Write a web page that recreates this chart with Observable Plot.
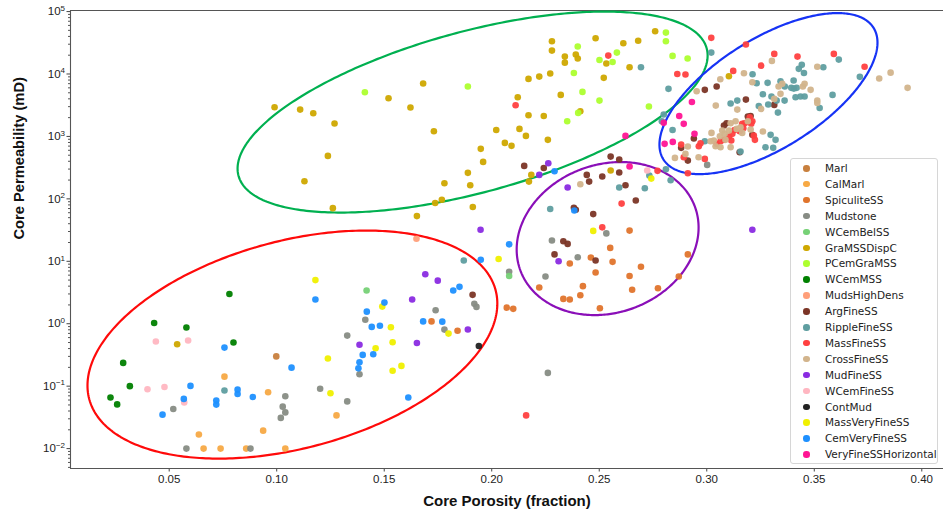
<!DOCTYPE html>
<html><head><meta charset="utf-8">
<script src="https://cdn.jsdelivr.net/npm/d3@7"></script>
<script src="https://cdn.jsdelivr.net/npm/@observablehq/plot@0.6"></script>
<style>
body{margin:0;background:#fff;}
#wrap{position:relative;width:943px;height:517px;overflow:hidden;}
#legend{position:absolute;left:790px;top:158px;width:148px;height:306px;border:1px solid #d6d6d6;border-radius:3px;background:rgba(255,255,255,0.85);font-family:"DejaVu Sans",sans-serif;font-size:10.5px;color:#222;box-sizing:border-box;}
.row{position:absolute;left:0;height:16px;line-height:16px;white-space:nowrap;}
.mk{position:absolute;left:12px;top:5px;width:6.5px;height:6.5px;border-radius:50%;}
.lb{position:absolute;left:34px;top:0;}
</style></head>
<body><div id="wrap"><div id="legend"></div></div>
<script>
// ---- data ----
const categories = ["Marl","CalMarl","SpiculiteSS","Mudstone","WCemBelSS","GraMSSDispC","PCemGraMSS","WCemMSS","MudsHighDens","ArgFineSS","RippleFineSS","MassFineSS","CrossFineSS","MudFineSS","WCemFineSS","ContMud","MassVeryFineSS","CemVeryFineSS","VeryFineSSHorizontal"];
const colors = ["#c8803e","#f7a944","#e0742c","#878c84","#76d176","#cfa800","#adff2f","#008000","#ff9f7a","#7b3526","#5f9ea0","#ff4040","#d2b48c","#8a2be2","#ffb6c1","#222222","#f0f000","#1e90ff","#ff1493"];

// [porosity (fraction), permeability (mD)]
const marl = [[0.0998,0.30]];
const calMarl = [[0.0757,0.142],[0.0960,0.080],[0.1278,0.034],[0.0638,0.0168],[0.0937,0.0194],[0.0660,0.01],[0.0739,0.01],[0.0858,0.01],[0.1040,0.01]];
const spiculiteSS = [[0.1720,1.09],[0.1841,0.77],[0.2641,31],[0.2363,9.2],[0.2461,11.5],[0.2551,16.4],[0.2562,9.8],[0.2483,6.6],[0.2694,8.2],[0.2641,5.8],[0.2912,12.9],[0.2870,5.7],[0.2653,3.5],[0.2773,3.7],[0.2221,3.8],[0.2424,4.0],[0.2412,2.86],[0.2333,2.5],[0.2363,2.44],[0.2503,1.77],[0.2070,1.81],[0.2100,1.73]];
const mudstone = [[0.1328,0.645],[0.1202,0.091],[0.1040,0.069],[0.0519,0.043],[0.1028,0.047],[0.1040,0.038],[0.1019,0.031],[0.1328,0.057],[0.0580,0.01],[0.0878,0.01],[0.1385,0.155],[0.1919,2.08],[0.1929,1.86],[0.1412,1.16],[0.1739,1.64],[0.1780,0.805],[0.2533,28],[0.2280,21.5],[0.2400,11.6],[0.2250,5.7],[0.2081,6.8],[0.2261,0.163],[0.3002,350]];
const wCemBelSS = [[0.1418,3.4],[0.2081,5.8]];
const graMSSDispC = [[0.0537,0.47],[0.0990,2930],[0.1109,2690],[0.1170,2350],[0.1269,1610],[0.1520,4080],[0.1622,2900],[0.1681,7030],[0.1731,1210],[0.2021,1270],[0.1949,632],[0.2061,788],[0.2092,706],[0.2129,1320],[0.2159,1020],[0.2171,2180],[0.2242,2130],[0.2261,881],[0.2121,4240],[0.2171,8350],[0.2221,9090],[0.2272,10160],[0.2321,4630],[0.2412,2530],[0.2521,8670],[0.2280,33400],[0.2280,23700],[0.2340,19000],[0.2340,15200],[0.2391,20500],[0.2400,17700],[0.2483,37300],[0.2533,14700],[0.2612,31000],[0.2641,12800],[0.2681,34000],[0.1889,261],[0.1900,165],[0.1780,178],[0.1768,97],[0.1737,86],[0.1912,74],[0.1652,53],[0.1261,71],[0.1129,191],[0.1238,488],[0.1960,391],[0.2184,242],[0.2173,189],[0.2553,284],[0.2760,48300],[0.3103,9200]];
const pCemGraMSS = [[0.1410,5090],[0.1889,6290],[0.2351,1750],[0.2402,2380],[0.2422,5170],[0.2382,10400],[0.2501,3750],[0.2400,27500],[0.2501,16800],[0.2562,15600],[0.2582,22000],[0.2731,3010],[0.2810,46000],[0.2810,33400],[0.2841,19500],[0.2911,17700]];
const wCemMSS = [[0.0780,3.0],[0.0430,1.03],[0.0580,0.87],[0.0799,0.50],[0.0286,0.236],[0.0317,0.100],[0.0227,0.066],[0.0258,0.051]];
const mudsHighDens = [[0.1650,23]];
const argFineSS = [[0.1911,2.9],[0.2151,337],[0.2242,313],[0.2553,475],[0.2593,426],[0.2442,242],[0.2593,264],[0.2514,228],[0.2453,189],[0.2622,165],[0.2670,94],[0.2382,72],[0.2391,67],[0.2472,57],[0.2333,21],[0.2353,19],[0.2292,12.9],[0.2483,10.3],[0.2912,410],[0.2991,5570],[0.3046,6290],[0.2940,925],[0.2881,656],[0.3182,3890],[0.3314,3200],[0.3080,1490],[0.3092,1630],[0.3191,2080],[0.3204,2130],[0.3212,1060],[0.3153,557]];
const rippleFineSS = [[0.1870,10.3],[0.0757,0.085],[0.2593,152],[0.2733,236],[0.2810,298],[0.2832,199],[0.2712,148],[0.2272,69],[0.2694,12800],[0.3021,22000],[0.2822,5780],[0.2800,2240],[0.2791,1750],[0.2841,1270],[0.2991,836],[0.3111,3360],[0.3142,3750],[0.3213,9900],[0.3232,7100],[0.3283,7210],[0.3343,7640],[0.3363,6290],[0.3442,14000],[0.3428,12100],[0.3452,10400],[0.3404,7850],[0.3393,6000],[0.3405,5840],[0.3418,6000],[0.3413,4240],[0.3436,4350],[0.3455,4350],[0.3261,4730],[0.3301,4350],[0.3286,3240],[0.3325,3750],[0.3362,3750],[0.3242,3080],[0.3331,2410],[0.3542,12800],[0.3614,17000],[0.3525,2860],[0.3585,4630],[0.3712,9000],[0.3157,572],[0.3297,1060],[0.3273,670],[0.3309,656],[0.3320,881]];
const massFineSS = [[0.2111,3160],[0.2542,19700],[0.2160,0.034],[0.2514,35],[0.2604,84],[0.2771,281],[0.2893,463],[0.2991,437],[0.2912,257],[0.3021,37900],[0.2863,10000],[0.2901,9790],[0.2881,740],[0.2963,695],[0.2971,777],[0.3123,11200],[0.3182,29600],[0.3253,13600],[0.3314,21000],[0.3422,19000],[0.3591,21000],[0.3734,13100],[0.3046,760],[0.3064,836],[0.3080,881],[0.3103,995],[0.3114,859],[0.3119,1100],[0.3129,1270],[0.3153,1210],[0.3170,1350],[0.3176,1630],[0.3193,1710],[0.3207,1590],[0.3212,1750],[0.3200,2030],[0.3219,1030],[0.3224,881],[0.3165,1590]];
const crossFineSS = [[0.2412,171],[0.2852,453],[0.2901,525],[0.2962,463],[0.2953,5290],[0.3063,8230],[0.3042,3120],[0.3142,2690],[0.2912,688],[0.3173,10300],[0.3212,7370],[0.3303,16200],[0.3351,6950],[0.3334,6290],[0.3343,4810],[0.3447,6290],[0.3455,6950],[0.3483,5570],[0.3314,3990],[0.3253,2760],[0.3514,13100],[0.3514,3750],[0.3514,3440],[0.3802,8450],[0.3855,10500],[0.3934,6000],[0.3022,1140],[0.3033,859],[0.3041,695],[0.3061,1005],[0.3072,1240],[0.3083,1100],[0.3087,881],[0.3103,1240],[0.3111,1630],[0.3134,1750],[0.3139,1320],[0.3157,1400],[0.3165,1140],[0.3191,1750],[0.3204,1290],[0.3018,836],[0.3064,670],[0.3111,670],[0.3261,1200]];
const mudFineSS = [[0.1385,0.46],[0.1691,6.2],[0.1749,4.9],[0.1630,2.44],[0.1889,0.81],[0.1652,0.49],[0.1948,32],[0.2263,372],[0.2221,242],[0.2353,152],[0.2311,10.0],[0.3212,32]];
const wCemFineSS = [[0.0438,0.52],[0.0588,0.54],[0.0399,0.089],[0.0478,0.097],[0.0570,0.055],[0.2723,284]];
const contMud = [[0.1940,0.44]];
const massVeryFineSS = [[0.1180,5.0],[0.1238,0.277],[0.1250,0.077],[0.1491,1.88],[0.1799,0.695],[0.1531,0.877],[0.1539,0.505],[0.1460,0.405],[0.1539,0.177],[0.1580,0.211],[0.2472,30.7],[0.2742,211],[0.2032,10.9]];
const cemVeryFineSS = [[0.1180,2.44],[0.0757,0.415],[0.1069,0.198],[0.1385,0.241],[0.1380,0.193],[0.0599,0.101],[0.0818,0.088],[0.0818,0.075],[0.0889,0.067],[0.0568,0.0625],[0.0719,0.0587],[0.0719,0.0507],[0.0469,0.035],[0.1949,10.6],[0.1821,3.4],[0.1850,3.9],[0.1501,2.18],[0.1419,1.56],[0.1681,1.09],[0.1770,1.08],[0.1442,0.89],[0.1480,0.93],[0.1400,0.317],[0.1449,0.324],[0.1612,0.066],[0.2292,277],[0.2384,65],[0.2081,18.7]];
const veryFineSSHorizontal = [[0.2641,329],[0.2622,1020],[0.2800,1650],[0.2931,3570],[0.2872,2130],[0.2893,1590],[0.2943,1100],[0.2804,760],[0.2842,818]];

const seriesValues = [marl,calMarl,spiculiteSS,mudstone,wCemBelSS,graMSSDispC,pCemGraMSS,wCemMSS,mudsHighDens,argFineSS,rippleFineSS,massFineSS,crossFineSS,mudFineSS,wCemFineSS,contMud,massVeryFineSS,cemVeryFineSS,veryFineSSHorizontal];

// annotation ellipses: centre (porosity, log10 perm) and conjugate semi-axes
const ellipseNames = ["red","green","blue","purple"];
const ellipseColors = ["#ff0a0a","#00b050","#1633f5","#8a0fb8"];
const ellipseCx = [0.1073,0.1911,0.3287,0.2539];
const ellipseCy = [-0.334,3.390,3.686,1.364];
const ellipseUx = [0.0953,0.1093,0.0507,0.0423];
const ellipseUy = [0.657,0.905,0.817,0.176];
const ellipseVy = [1.704,1.331,0.998,1.213];

const xTicks = [0.05,0.10,0.15,0.20,0.25,0.30,0.35,0.40];
const yTicks = [1e-2,1e-1,1,10,100,1e3,1e4,1e5];
const xDomain = [0.0041,0.4101];
const yDomain = [0.0048,1.04e5];

// ---- build ----
const points = categories.flatMap((c,i) => seriesValues[i].map(([p,k]) => ({facies:c, porosity:p, perm:k})));
const ellipsePts = ellipseNames.flatMap((n,j) => d3.range(0,361).map(a => {
  const t = a*Math.PI/180;
  return {name:n, x: ellipseCx[j] + ellipseUx[j]*Math.cos(t), y: Math.pow(10, ellipseCy[j] + ellipseUy[j]*Math.cos(t) + ellipseVy[j]*Math.sin(t))};
}));
const yMinor = d3.range(-3,5).flatMap(e => d3.range(2,10).map(m => m*Math.pow(10,e))).filter(v => v>yDomain[0] && v<yDomain[1]);
const fmtPow = v => "10^" + String(Math.round(Math.log10(v))).replace("-", "\u2212");

const chart = Plot.plot({
  width:943, height:517,
  marginLeft:70, marginRight:0, marginTop:10, marginBottom:49,
  style:{fontFamily:"'Liberation Sans', Arial, sans-serif", fontSize:"11.5px", color:"#222", background:"white"},
  x:{domain:xDomain},
  y:{type:"log", domain:yDomain},
  color:{domain:categories, range:colors},
  marks:[
    Plot.axisX(xTicks, {tickSize:3.5, tickPadding:2.5, tickFormat:d => d.toFixed(2), label:null, stroke:"#444"}),
    Plot.axisY(yTicks, {tickSize:3.5, tickPadding:2, tickFormat:fmtPow, label:null, stroke:"#444"}),
    Plot.axisY(yMinor, {tickSize:2, tickFormat:() => "", label:null, stroke:"#555"}),
    Plot.ruleX([xDomain[0]], {stroke:"#555", strokeWidth:1.1}),
    Plot.ruleY([yDomain[0], yDomain[1]], {stroke:"#555", strokeWidth:1.1}),
    Plot.line(ellipsePts, {x:"x", y:"y", z:"name", stroke:d => ellipseColors[ellipseNames.indexOf(d.name)], strokeWidth:2.2}),
    Plot.dot(points, {x:"porosity", y:"perm", fill:"facies", r:3.3, fillOpacity:0.95}),
    Plot.text(["Core Porosity (fraction)"], {text:d => d, frameAnchor:"bottom", dy:37, fontWeight:"bold", fontSize:15, fill:"#111"}),
    Plot.text(["Core Permeability (mD)"], {text:d => d, frameAnchor:"left", dx:-51, rotate:-90, fontWeight:"bold", fontSize:14.7, fill:"#111"})
  ]
});
document.getElementById("wrap").prepend(chart);

// render exponent of y tick labels as superscript
d3.select(chart).selectAll("text").each(function() {
  const s = this.textContent;
  if (s.startsWith("10^")) {
    const e = s.slice(3);
    const el = d3.select(this);
    el.text("10");
    el.append("tspan").attr("dy", "-0.55em").attr("font-size", "8px").text(e);
  }
});

// legend
const leg = document.getElementById("legend");
categories.forEach((c,i) => {
  const row = document.createElement("div");
  row.className = "row";
  row.style.top = (1 + i*15.9) + "px";
  row.innerHTML = `<span class="mk" style="background:${colors[i]}"></span><span class="lb">${c}</span>`;
  leg.appendChild(row);
});
</script>
</body></html>
